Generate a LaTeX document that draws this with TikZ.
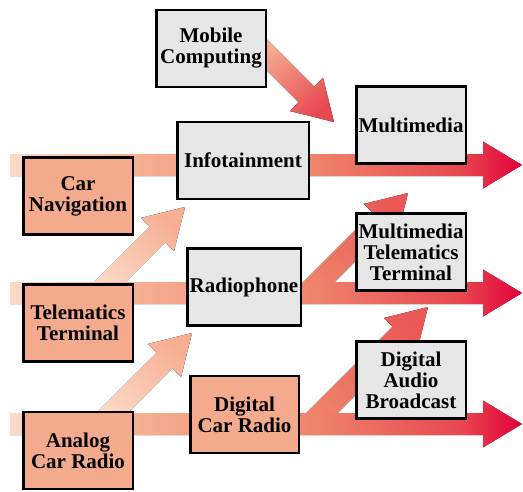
\documentclass[tikz,border=0pt]{standalone}
\usepackage{fontspec}
\setmainfont{Liberation Serif}
\usetikzlibrary{calc}
\definecolor{peach}{RGB}{252,218,200}
\definecolor{salmon}{RGB}{246,174,146}
\definecolor{coral}{RGB}{238,130,106}
\definecolor{rosered}{RGB}{232,72,80}
\definecolor{crimson}{RGB}{226,0,58}
\definecolor{boxgray}{RGB}{230,230,230}
\definecolor{boxsalmon}{RGB}{244,170,140}
\pgfdeclarehorizontalshading{bandshade}{100bp}{color(0bp)=(peach); color(25bp)=(peach);
  color(38bp)=(salmon); color(55bp)=(coral); color(69bp)=(rosered);
  color(75bp)=(crimson); color(100bp)=(crimson)}
\tikzset{
  box/.style={draw=black,line width=2.5pt,inner sep=0pt,align=center,
              minimum width=109.5pt,minimum height=77pt,
              font=\fontsize{21pt}{21pt}\selectfont\bfseries},
  graybox/.style={box,fill=boxgray},
  warmbox/.style={box,fill=boxsalmon},
  band/.style={shade,shading=bandshade},
  rise/.style 2 args={bottom color=#1,top color=#2,shading angle=-45},
  drop/.style 2 args={bottom color=#1,top color=#2,shading angle=-135}
}
% wide arrow from #2 to tip #3
\newcommand\flowarrow[3][]{%
  \coordinate (hb) at ($(#3)!39pt!(#2)$);
  \fill[#1] ($(#2)!11pt!90:(#3)$) -- ($(hb)!11pt!-90:(#2)$)
    -- ($(hb)!23.5pt!-90:(#2)$) -- (#3) -- ($(hb)!23.5pt!90:(#2)$)
    -- ($(hb)!11pt!90:(#2)$) -- ($(#2)!11pt!-90:(#3)$) -- cycle;}

\begin{document}
\begin{tikzpicture}[x=1pt,y=-1pt]
  \useasboundingbox (0,0) rectangle (523,491);
  \coordinate (b1s) at (10,165);  \coordinate (b1t) at (522,165);
  \coordinate (b2s) at (10,293);  \coordinate (b2t) at (522,293);
  \coordinate (b3s) at (10,424);  \coordinate (b3t) at (522,424);
  \coordinate (mobS) at (258,46); \coordinate (mobT) at (334,122);
  \coordinate (infS) at (99,293); \coordinate (infT) at (185,207);
  \coordinate (radS) at (101,424); \coordinate (radT) at (192,333);
  \coordinate (mttS) at (308,293); \coordinate (mttT) at (408,193);
  \coordinate (dabS) at (311,424); \coordinate (dabT) at (428,307);
  \flowarrow[drop={salmon}{rosered}]{mobS}{mobT}
  \flowarrow[rise={peach}{salmon}]{infS}{infT}
  \flowarrow[rise={peach}{salmon}]{radS}{radT}
  \flowarrow[rise={coral}{rosered!70!coral}]{mttS}{mttT}
  \flowarrow[rise={coral}{rosered!70!coral}]{dabS}{dabT}
  \flowarrow[band]{b1s}{b1t}
  \flowarrow[band]{b2s}{b2t}
  \flowarrow[band]{b3s}{b3t}
  \node[graybox] (mobile) at (211,48.5) {Mobile\\Computing};
  \node[graybox] (multimedia) at (411,125) {Multimedia};
  \node[graybox,minimum width=131.5pt] (infotain) at (243,160.5) {Infotainment};
  \node[warmbox] (carnav) at (78,196) {Car\\Navigation};
  \node[graybox,minimum width=113.5pt] (radiophone) at (244,287) {Radiophone};
  \node[graybox] (mmterm) at (411,252) {Multimedia\\Telematics\\Terminal};
  \node[warmbox] (telterm) at (78,323) {Telematics\\Terminal};
  \node[graybox] (dab) at (411,380) {Digital\\Audio\\Broadcast};
  \node[warmbox,minimum width=108.5pt] (dcr) at (244.5,414.5) {Digital\\Car Radio};
  \node[warmbox] (analog) at (78,450.5) {Analog\\Car Radio};
\end{tikzpicture}
\end{document}
